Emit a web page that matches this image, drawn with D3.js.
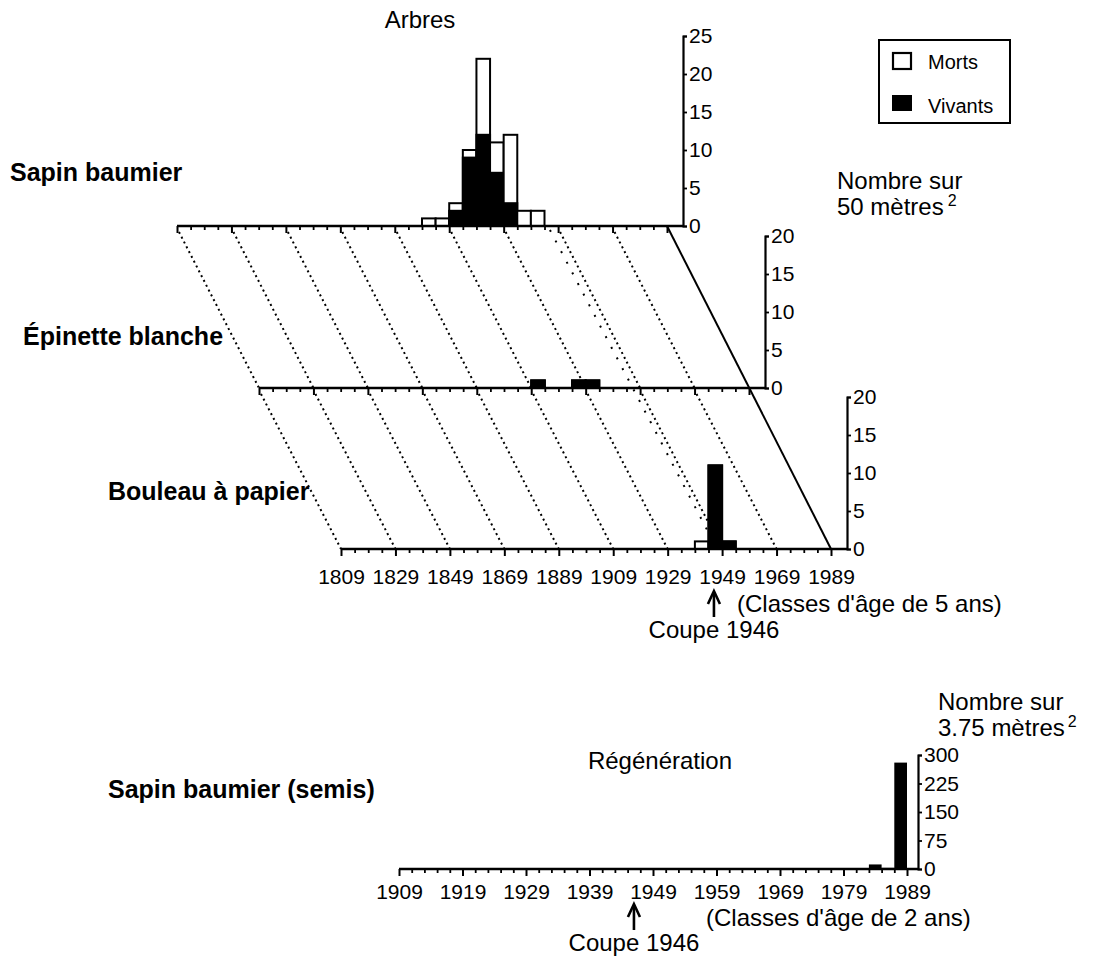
<!DOCTYPE html>
<html>
<head>
<meta charset="utf-8">
<script src="https://cdn.jsdelivr.net/npm/d3@7"></script>
<style>
  body { margin: 0; background: #fff; }
  svg { display: block; }
  text { font-family: 'Liberation Sans', Arial, Helvetica, sans-serif; fill: #000; }
</style>
</head>
<body>
<svg id="chart" width="1094" height="972"></svg>
<script>
// ---- Trees: 5-year age classes (class start year), count per 50 m² ----
const sapinClasses = [1899, 1904, 1909, 1914, 1919, 1924, 1929, 1934, 1939];
const sapinVivants = [0, 0, 2, 9, 12, 7, 3, 0, 0];
const sapinMorts   = [1, 1, 1, 1, 10, 4, 9, 2, 2];

const epinetteClasses = [1909, 1924, 1929];
const epinetteVivants = [1, 1, 1];
const epinetteMorts   = [0, 0, 0];

const bouleauClasses = [1939, 1944, 1949];
const bouleauVivants = [0, 11, 1];
const bouleauMorts   = [1, 0, 0];

// ---- Regeneration: 2-year age classes, seedlings per 3.75 m² ----
const semisClasses = [1983, 1985, 1987];
const semisValues  = [12, 3, 280];

// ---- Tick labels ----
const treeYearTicks  = [1809, 1829, 1849, 1869, 1889, 1909, 1929, 1949, 1969, 1989];
const semisYearTicks = [1909, 1919, 1929, 1939, 1949, 1959, 1969, 1979, 1989];
const sapinCountTicks    = [0, 5, 10, 15, 20, 25];
const epinetteCountTicks = [0, 5, 10, 15, 20];
const bouleauCountTicks  = [0, 5, 10, 15, 20];
const semisCountTicks    = [0, 75, 150, 225, 300];

const cutYear = 1946;
const treeClassWidth = 5;
const semisClassWidth = 2;

const svg = d3.select('#chart');
svg.append('rect').attr('width', 1094).attr('height', 972).attr('fill', '#fff');

const TICK_FONT = 21;
const TEXT_FONT = 24;
const BOLD_FONT = 25;

// ---- Tree panels, stacked obliquely ----
const panels = [
  { name: 'Sapin baumier',    classes: sapinClasses,    vivants: sapinVivants,    morts: sapinMorts,    ticks: sapinCountTicks,    yMax: 25, labelX: 10,  labelY: 181 },
  { name: 'Épinette blanche', classes: epinetteClasses, vivants: epinetteVivants, morts: epinetteMorts, ticks: epinetteCountTicks, yMax: 20, labelX: 23,  labelY: 345 },
  { name: 'Bouleau à papier', classes: bouleauClasses,  vivants: bouleauVivants,  morts: bouleauMorts,  ticks: bouleauCountTicks,  yMax: 20, labelX: 108, labelY: 500 }
];
const baselines = [226, 388, 549];
const shiftX = 82;
const unitPx = 7.6;

panels.forEach((p, i) => {
  p.x = d3.scaleLinear().domain([1809, 1989]).range([177 + shiftX * i, 667 + shiftX * i]);
  p.base = baselines[i];
  p.y = d3.scaleLinear().domain([0, p.yMax]).range([p.base, p.base - p.yMax * unitPx]);
  p.axisX = p.x(1989) + 16;
});

// oblique guide lines joining the same year on successive panels
const guides = svg.append('g');
for (let i = 0; i < panels.length - 1; i++) {
  const a = panels[i], b = panels[i + 1];
  treeYearTicks.filter(t => t < 1989).forEach(t => {
    guides.append('line')
      .attr('x1', a.x(t) + 2).attr('y1', a.base + 6)
      .attr('x2', b.x(t)).attr('y2', b.base)
      .attr('stroke', '#000').attr('stroke-width', 2)
      .attr('stroke-dasharray', '2,3.4');
  });
}
// cutting year, sparse dotted
guides.append('line')
  .attr('x1', panels[0].x(cutYear)).attr('y1', panels[0].base + 4)
  .attr('x2', panels[2].x(cutYear)).attr('y2', panels[2].base - 6)
  .attr('stroke', '#000').attr('stroke-width', 2)
  .attr('stroke-dasharray', '2,10');
// last year, solid
guides.append('line')
  .attr('x1', panels[0].x(1989)).attr('y1', panels[0].base)
  .attr('x2', panels[2].x(1989)).attr('y2', panels[2].base)
  .attr('stroke', '#000').attr('stroke-width', 2);

panels.forEach((p, i) => {
  const g = svg.append('g');

  // bars: outline = total, black fill = living
  p.classes.forEach((c, k) => {
    const total = p.vivants[k] + p.morts[k];
    const x0 = p.x(c), x1 = p.x(c + treeClassWidth);
    if (total > 0) {
      g.append('rect')
        .attr('x', x0).attr('y', p.y(total))
        .attr('width', x1 - x0).attr('height', p.y(0) - p.y(total))
        .attr('fill', '#fff').attr('stroke', '#000').attr('stroke-width', 2);
    }
    if (p.vivants[k] > 0) {
      g.append('rect')
        .attr('x', x0).attr('y', p.y(p.vivants[k]))
        .attr('width', x1 - x0).attr('height', p.y(0) - p.y(p.vivants[k]))
        .attr('fill', '#000').attr('stroke', '#000').attr('stroke-width', 2);
    }
  });

  // baseline
  g.append('line')
    .attr('x1', p.x(1809)).attr('x2', p.axisX)
    .attr('y1', p.base).attr('y2', p.base)
    .attr('stroke', '#000').attr('stroke-width', 2.4);

  // minor ticks every 5 years
  const minor = d3.axisBottom(p.x)
    .tickValues(d3.range(1809, 1990, 5).filter(t => !treeYearTicks.includes(t)))
    .tickSize(4).tickFormat('');
  g.append('g').attr('transform', `translate(0,${p.base})`).call(minor)
    .call(s => s.select('.domain').remove())
    .call(s => s.selectAll('line').attr('stroke-width', 1.8));

  // major ticks every 20 years (labels only on the lowest panel)
  const major = d3.axisBottom(p.x)
    .tickValues(treeYearTicks).tickSize(7)
    .tickFormat(i === panels.length - 1 ? d3.format('d') : '');
  g.append('g').attr('transform', `translate(0,${p.base})`).call(major)
    .call(s => s.select('.domain').remove())
    .call(s => s.selectAll('line').attr('stroke-width', 2))
    .call(s => s.selectAll('text').attr('font-size', TICK_FONT).attr('font-family', null)
      .attr('dy', 0).attr('y', 35));

  // count axis on the right
  const yAxis = d3.axisRight(p.y).tickValues(p.ticks).tickSize(4).tickSizeOuter(4).tickPadding(2);
  g.append('g').attr('transform', `translate(${p.axisX},0)`).call(yAxis)
    .call(s => s.select('.domain').attr('stroke-width', 2.2))
    .call(s => s.selectAll('.tick line').attr('stroke-width', 1.8))
    .call(s => s.selectAll('text').attr('font-size', TICK_FONT).attr('font-family', null));

  // species label
  svg.append('text').attr('x', p.labelX).attr('y', p.labelY)
    .attr('font-size', BOLD_FONT).attr('font-weight', 'bold').text(p.name);
});

// titles & units (trees)
svg.append('text').attr('x', 420).attr('y', 28).attr('text-anchor', 'middle')
  .attr('font-size', TEXT_FONT).text('Arbres');
svg.append('text').attr('x', 837).attr('y', 189).attr('font-size', TEXT_FONT).text('Nombre sur');
svg.append('text').attr('x', 837).attr('y', 215).attr('font-size', TEXT_FONT)
  .text('50 mètres').append('tspan').attr('dx', 4).attr('dy', -9).attr('font-size', 16).text('2');
svg.append('text').attr('x', 737).attr('y', 612).attr('font-size', TEXT_FONT).text("(Classes d'âge de 5 ans)");

// arrow marking the cut
function cutArrow(x, yTip, yEnd, labelY) {
  const g = svg.append('g');
  g.append('line').attr('x1', x).attr('x2', x).attr('y1', yTip + 2).attr('y2', yEnd)
    .attr('stroke', '#000').attr('stroke-width', 2.6);
  g.append('path').attr('d', `M${x - 6},${yTip + 13} L${x},${yTip} L${x + 6},${yTip + 13}`)
    .attr('fill', 'none').attr('stroke', '#000').attr('stroke-width', 2.6);
  g.append('text').attr('x', x).attr('y', labelY).attr('text-anchor', 'middle')
    .attr('font-size', TEXT_FONT).text('Coupe 1946');
}
cutArrow(panels[2].x(cutYear), 591, 617, 638);

// legend
const leg = svg.append('g');
leg.append('rect').attr('x', 879).attr('y', 40).attr('width', 131).attr('height', 83)
  .attr('fill', '#fff').attr('stroke', '#000').attr('stroke-width', 2);
leg.append('rect').attr('x', 893).attr('y', 53).attr('width', 18).attr('height', 16)
  .attr('fill', '#fff').attr('stroke', '#000').attr('stroke-width', 2.2);
leg.append('text').attr('x', 928).attr('y', 69).attr('font-size', 20).text('Morts');
leg.append('rect').attr('x', 892).attr('y', 95).attr('width', 20).attr('height', 16).attr('fill', '#000');
leg.append('text').attr('x', 928).attr('y', 113).attr('font-size', 20).text('Vivants');

// ---- Regeneration panel ----
const xs = d3.scaleLinear().domain([1909, 1989]).range([399, 907]);
const ys = d3.scaleLinear().domain([0, 300]).range([869, 755]);
const rg = svg.append('g');

semisClasses.forEach((c, k) => {
  rg.append('rect')
    .attr('x', xs(c)).attr('y', ys(semisValues[k]))
    .attr('width', xs(c + semisClassWidth) - xs(c)).attr('height', ys(0) - ys(semisValues[k]))
    .attr('fill', '#000');
});

rg.append('line').attr('x1', xs(1909)).attr('x2', 918).attr('y1', ys(0)).attr('y2', ys(0))
  .attr('stroke', '#000').attr('stroke-width', 2.4);
rg.append('g').attr('transform', `translate(0,${ys(0)})`)
  .call(d3.axisBottom(xs).tickValues(d3.range(1909, 1990, 2).filter(t => !semisYearTicks.includes(t))).tickSize(4).tickFormat(''))
  .call(s => s.select('.domain').remove())
  .call(s => s.selectAll('line').attr('stroke-width', 1.8));
rg.append('g').attr('transform', `translate(0,${ys(0)})`)
  .call(d3.axisBottom(xs).tickValues(semisYearTicks).tickSize(7).tickFormat(d3.format('d')))
  .call(s => s.select('.domain').remove())
  .call(s => s.selectAll('line').attr('stroke-width', 2))
  .call(s => s.selectAll('text').attr('font-size', TICK_FONT).attr('font-family', null)
    .attr('dy', 0).attr('y', 30));
rg.append('g').attr('transform', 'translate(918,0)')
  .call(d3.axisRight(ys).tickValues(semisCountTicks).tickSize(4).tickSizeOuter(4).tickPadding(2))
  .call(s => s.select('.domain').attr('stroke-width', 2.2))
  .call(s => s.selectAll('.tick line').attr('stroke-width', 1.8))
  .call(s => s.selectAll('text').attr('font-size', TICK_FONT).attr('font-family', null));

svg.append('text').attr('x', 938).attr('y', 710).attr('font-size', TEXT_FONT).text('Nombre sur');
svg.append('text').attr('x', 938).attr('y', 736).attr('font-size', TEXT_FONT)
  .text('3.75 mètres').append('tspan').attr('dx', 3).attr('dy', -9).attr('font-size', 16).text('2');
svg.append('text').attr('x', 660).attr('y', 769).attr('text-anchor', 'middle')
  .attr('font-size', TEXT_FONT).text('Régénération');
svg.append('text').attr('x', 108).attr('y', 798)
  .attr('font-size', BOLD_FONT).attr('font-weight', 'bold').text('Sapin baumier (semis)');
svg.append('text').attr('x', 706).attr('y', 926).attr('font-size', TEXT_FONT).text("(Classes d'âge de 2 ans)");
cutArrow(xs(cutYear), 904, 930, 951);
</script>
</body>
</html>
